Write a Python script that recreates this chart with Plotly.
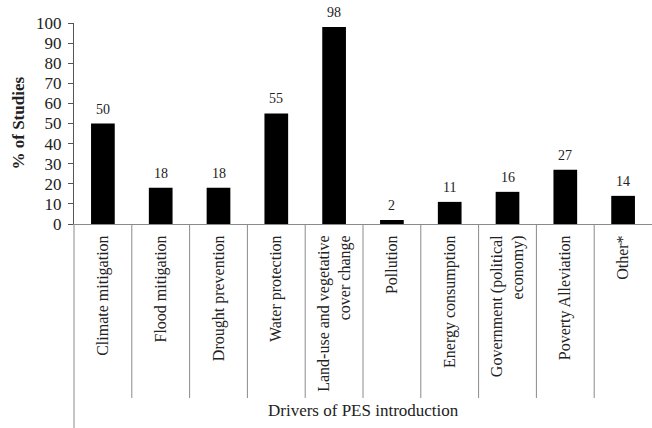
import plotly.graph_objects as go

categories = [
    "Climate mitigation",
    "Flood mitigation",
    "Drought prevention",
    "Water protection",
    "Land-use and vegetative<br>cover change",
    "Pollution",
    "Energy consumption",
    "Government (political<br>economy)",
    "Poverty Alleviation",
    "Other*",
]
values = [50, 18, 18, 55, 98, 2, 11, 16, 27, 14]
y_ticks = list(range(0, 101, 10))

FONT = "Liberation Serif"
W, H = 652, 428
ML, MR, MT, MB = 74, 0, 23, 204
plot_h = H - MT - MB

xs = list(range(len(categories)))

fig = go.Figure(
    go.Bar(
        x=xs,
        y=values,
        marker=dict(color="black", line=dict(width=0)),
        width=0.41,
        cliponaxis=False,
    )
)

# category separator lines below the axis
sep_depth = 174 / plot_h
shapes = []
for i in range(len(categories) - 1):
    shapes.append(dict(type="line", xref="x", yref="paper",
                       x0=i + 0.5, x1=i + 0.5, y0=0, y1=-sep_depth,
                       line=dict(color="#8a8a8a", width=1)))
# left axis line extended down to bottom
shapes.append(dict(type="line", xref="paper", yref="paper",
                   x0=0, x1=0, y0=0, y1=-MB / plot_h,
                   line=dict(color="#8a8a8a", width=1)))

annotations = [
    dict(x=x, y=v, xref="x", yref="y", text=str(v), showarrow=False,
         xanchor="center", yanchor="bottom", yshift=5,
         font=dict(family=FONT, size=14, color="#222"))
    for x, v in zip(xs, values)
]
annotations += [
    dict(text="Drivers of PES introduction", xref="paper", yref="paper",
         x=0.5, y=-(410 - (MT + plot_h)) / plot_h,
         xanchor="center", yanchor="middle", showarrow=False,
         font=dict(family=FONT, size=17, color="#222")),
    dict(text="<b>% of Studies</b>", xref="paper", yref="paper",
         x=-(ML - 18) / (W - ML - MR), y=0.5, textangle=-90,
         xanchor="center", yanchor="middle", showarrow=False,
         font=dict(family=FONT, size=17, color="#222")),
]

fig.update_layout(
    width=W, height=H,
    margin=dict(l=ML, r=MR, t=MT, b=MB, autoexpand=False),
    plot_bgcolor="white", paper_bgcolor="white",
    showlegend=False,
    shapes=shapes,
    annotations=annotations,
    xaxis=dict(
        range=[-0.5, len(categories) - 0.5],
        tickmode="array",
        tickvals=xs,
        ticktext=categories,
        tickangle=-90,
        tickfont=dict(family=FONT, size=16, color="#222"),
        showline=True, linecolor="#8a8a8a", linewidth=1,
        ticks="", showgrid=False, zeroline=False,
        ticklabelstandoff=4, automargin=False,
    ),
    yaxis=dict(
        range=[0, 100],
        tickvals=y_ticks,
        tickfont=dict(family=FONT, size=17, color="#222"),
        showline=True, linecolor="#555", linewidth=1,
        ticks="outside", ticklen=5, tickcolor="#555",
        showgrid=False, zeroline=False,
        ticklabelstandoff=3, automargin=False,
    ),
)

fig.write_html("out.html", config={"displayModeBar": False},
               post_script="document.body.style.margin='0';")
